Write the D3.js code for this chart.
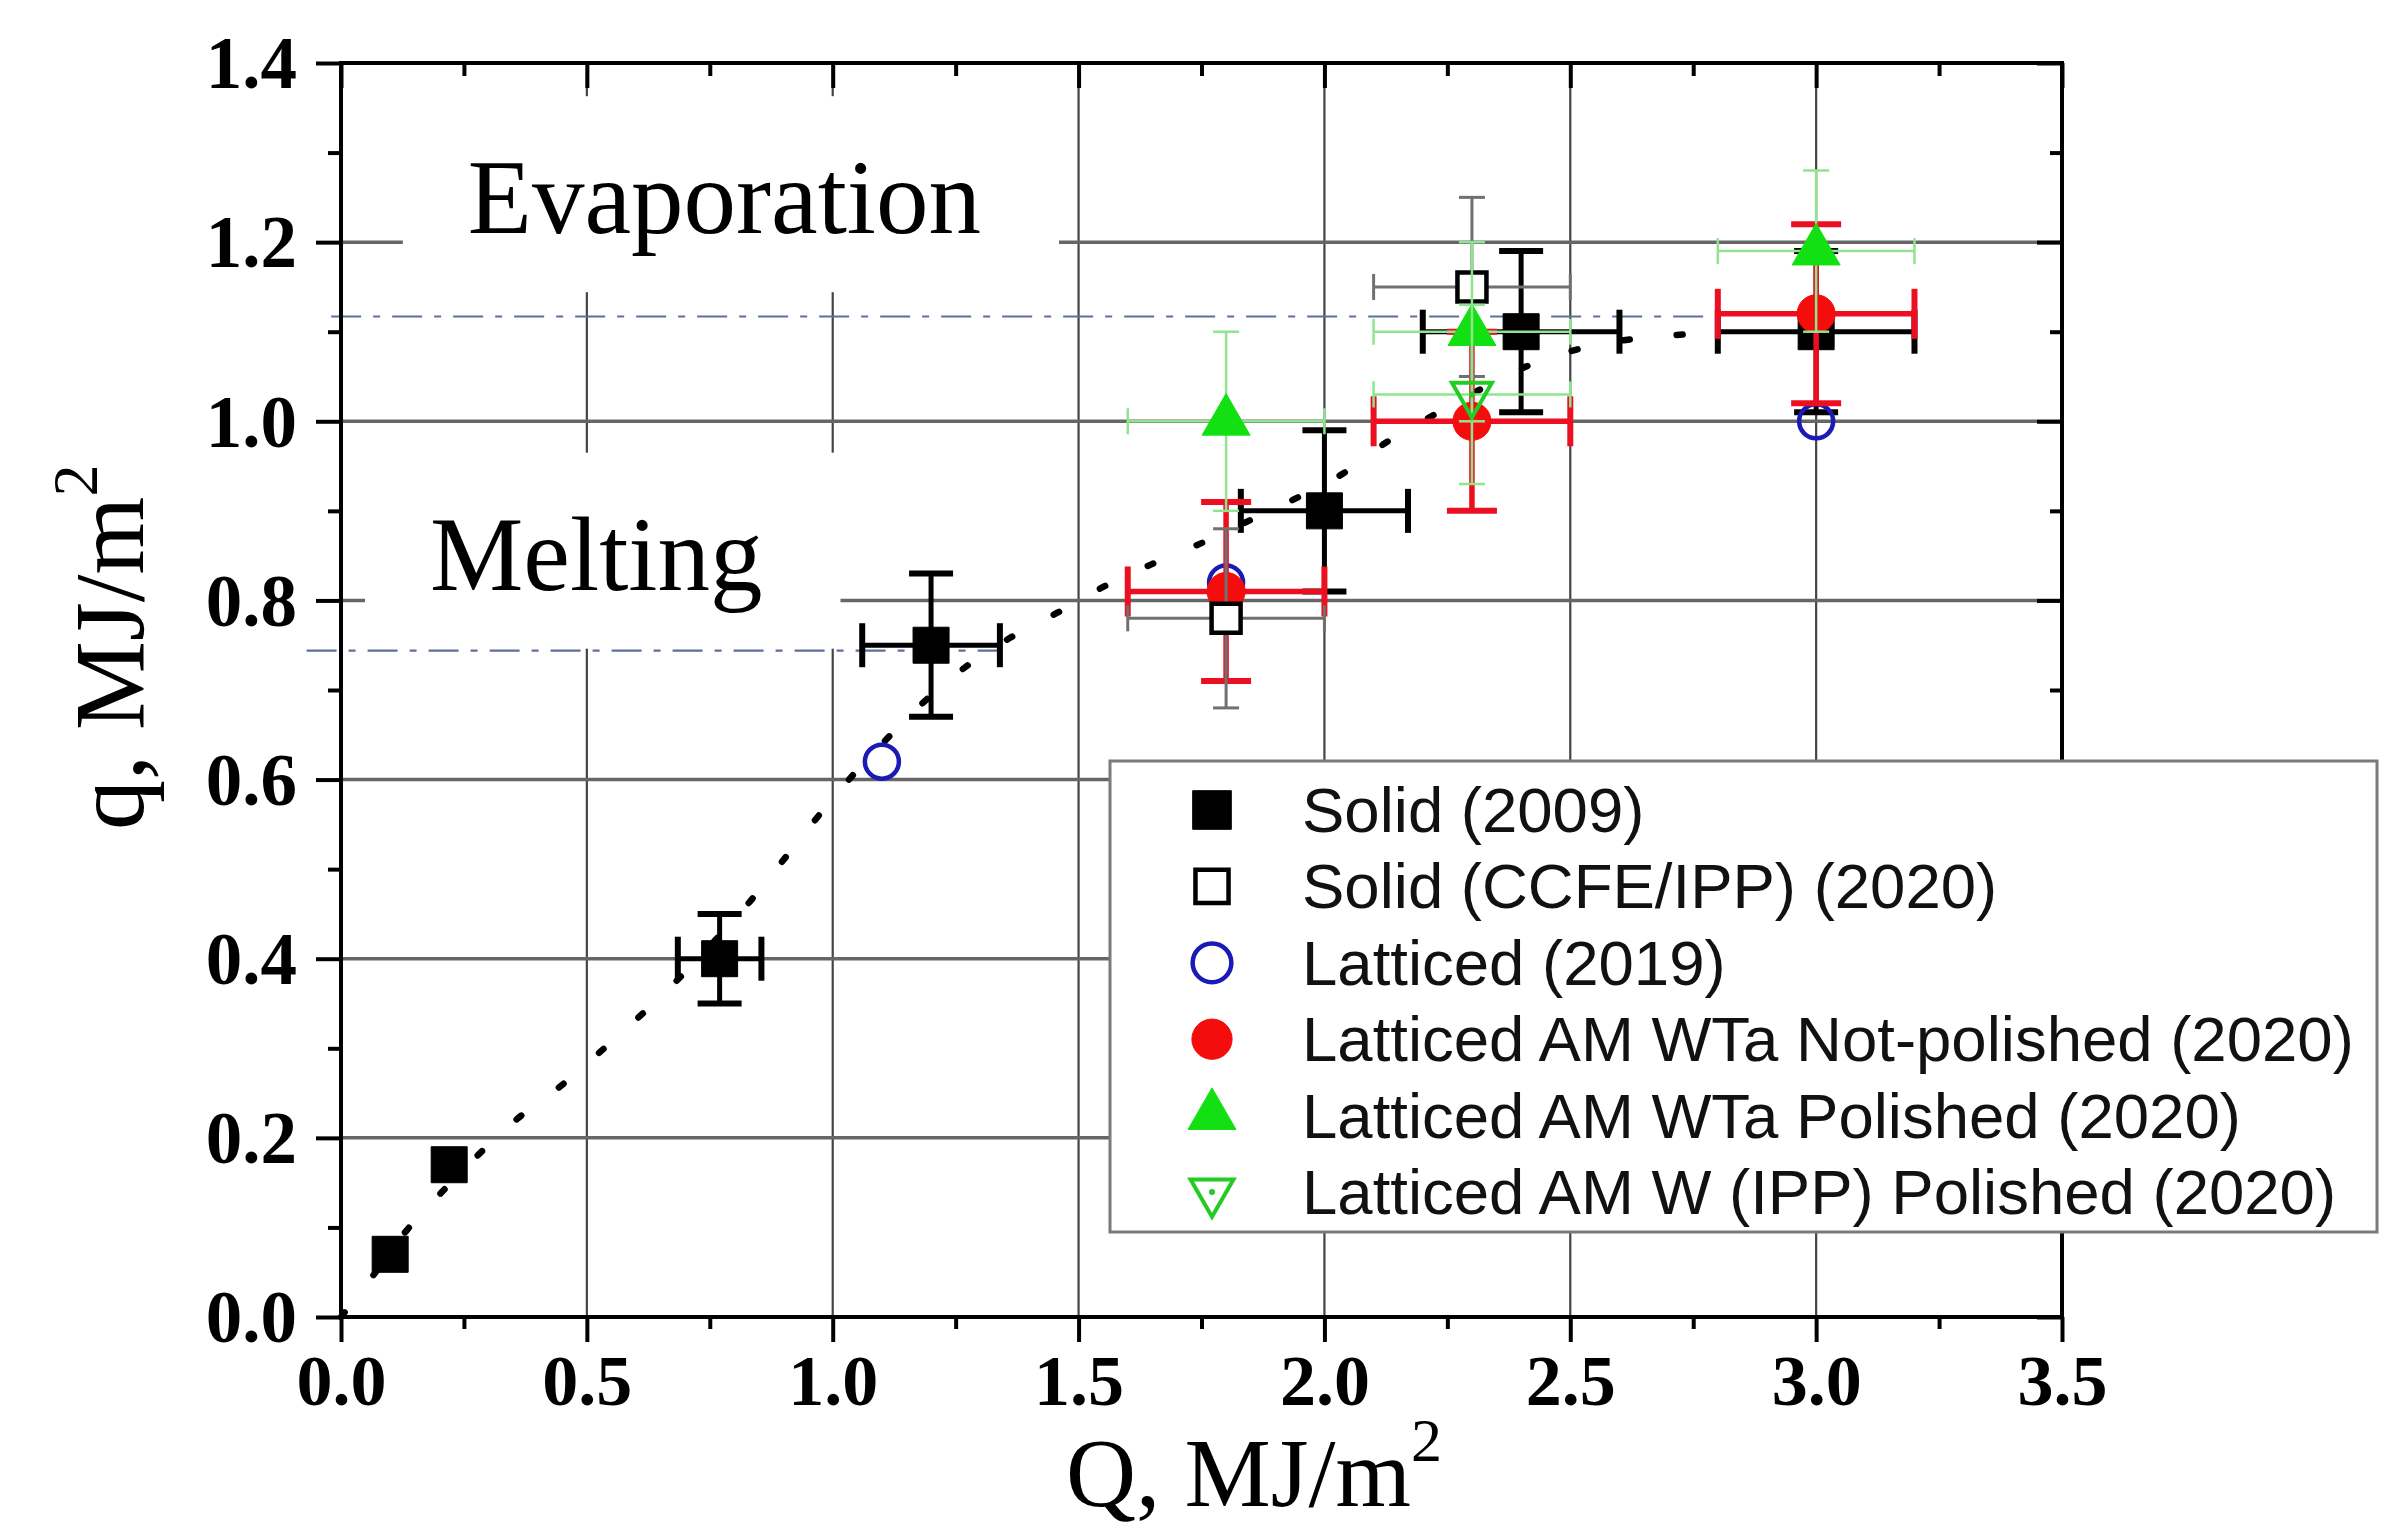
<!DOCTYPE html>
<html>
<head>
<meta charset="utf-8">
<script src="https://cdn.jsdelivr.net/npm/d3@7"></script>
<style>
  html, body { margin: 0; padding: 0; background: #fff; overflow: hidden; }
  svg { display: block; }
</style>
</head>
<body>
<div id="chart"></div>
<script>
// ---- values ----
// Solid (2009)
const solidQ    = [0.1, 0.22, 0.77, 1.2, 2.0, 2.4, 3.0];
const solidq    = [0.07, 0.17, 0.40, 0.75, 0.90, 1.10, 1.10];
const solidQerr = [0, 0, 0.085, 0.14, 0.17, 0.2, 0.2];
const solidqerr = [0, 0, 0.05, 0.08, 0.09, 0.09, 0.09];
// Solid (CCFE/IPP) (2020)
const ccfeQ    = [1.8, 2.3];
const ccfeq    = [0.78, 1.15];
const ccfeQerr = [0.2, 0.2];
const ccfeqerr = [0.1, 0.1];
// Latticed (2019)
const lat2019Q = [1.1, 1.8, 3.0];
const lat2019q = [0.62, 0.82, 1.0];
// Latticed AM WTa Not-polished (2020)
const wtaNpQ    = [1.8, 2.3, 3.0];
const wtaNpq    = [0.81, 1.0, 1.12];
const wtaNpQerr = [0.2, 0.2, 0.2];
const wtaNpqerr = [0.1, 0.1, 0.1];
// Latticed AM WTa Polished (2020)
const wtaPolQ    = [1.8, 2.3, 3.0];
const wtaPolq    = [1.0, 1.10, 1.19];
const wtaPolQerr = [0.2, 0.2, 0.2];
const wtaPolqerr = [0.1, 0.1, 0.09];
// Latticed AM W (IPP) Polished (2020)
const wIppQ    = [2.3];
const wIppq    = [1.03];
const wIppQerr = [0.2];
const wIppqerr = [0.1];

// dotted trend through the solid data
const trendQ = [0, 0.065, 0.134, 0.194, 0.279, 0.358, 0.445, 0.527, 0.606, 0.682, 0.76, 0.832, 0.898, 0.966, 1.033,
                1.184, 1.266, 1.36, 1.456, 1.55, 1.647, 1.75, 1.839, 2.036, 2.119, 2.219, 2.414, 2.519, 2.629, 2.733];
const trendq = [0, 0.046, 0.097, 0.133, 0.181, 0.221, 0.257, 0.296, 0.335, 0.375, 0.42, 0.464, 0.509, 0.556, 0.60,
                0.686, 0.724, 0.758, 0.786, 0.815, 0.84, 0.864, 0.887, 0.941, 0.974, 1.006, 1.062, 1.081, 1.092, 1.097];

// evaporation / melting thresholds (dash-dot)
const thresholdq      = [1.117, 0.744];
const thresholdQstart = [-0.02, -0.07];
const thresholdQend   = [2.8, 1.34];

const regionLabels = ["Evaporation", "Melting"];
const regionLabelQ = [0.258, 0.181];
const regionLabelq = [1.21, 0.812];

const xMajor = [0, 0.5, 1.0, 1.5, 2.0, 2.5, 3.0, 3.5];
const xMinor = [0.25, 0.75, 1.25, 1.75, 2.25, 2.75, 3.25];
const xTickLabels = ["0.0", "0.5", "1.0", "1.5", "2.0", "2.5", "3.0", "3.5"];
const yMajor = [0, 0.2, 0.4, 0.6, 0.8, 1.0, 1.2, 1.4];
const yMinor = [0.1, 0.3, 0.5, 0.7, 0.9, 1.1, 1.3];
const yTickLabels = ["0.0", "0.2", "0.4", "0.6", "0.8", "1.0", "1.2", "1.4"];
const xGrid = [0.5, 1.0, 1.5, 2.0, 2.5, 3.0];
const yGrid = [0.2, 0.4, 0.6, 0.8, 1.0, 1.2];

const legendNames = [
  "Solid (2009)",
  "Solid (CCFE/IPP) (2020)",
  "Latticed (2019)",
  "Latticed AM WTa Not-polished (2020)",
  "Latticed AM WTa Polished (2020)",
  "Latticed AM W (IPP) Polished (2020)"
];

// ---- layout ----
const W = 2408, H = 1529;
const margin = { top: 63, left: 341 };
const width = 2062 - 341, height = 1317 - 63;
const serif = "'Liberation Serif', 'Times New Roman', serif";
const sans = "'Liberation Sans', Arial, sans-serif";

const svg = d3.select("#chart").append("svg")
  .attr("width", W).attr("height", H)
  .attr("viewBox", `0 0 ${W} ${H}`);
svg.append("rect").attr("width", W).attr("height", H).attr("fill", "#fff");

const g = svg.append("g").attr("transform", `translate(${margin.left},${margin.top})`);

const x = d3.scaleLinear().domain([0, 3.5]).range([0, width]);
const y = d3.scaleLinear().domain([0, 1.4]).range([height, 0]);

// grid
g.append("g").selectAll("line").data(xGrid).join("line")
  .attr("x1", d => x(d)).attr("x2", d => x(d))
  .attr("y1", 0).attr("y2", height)
  .attr("stroke", "#444").attr("stroke-width", 2.2);
g.append("g").selectAll("line").data(yGrid).join("line")
  .attr("x1", 0).attr("x2", width)
  .attr("y1", d => y(d)).attr("y2", d => y(d))
  .attr("stroke", "#666").attr("stroke-width", 3.5);

// thresholds
g.append("g").selectAll("line").data(thresholdq).join("line")
  .attr("x1", (d, i) => x(thresholdQstart[i])).attr("x2", (d, i) => x(thresholdQend[i]))
  .attr("y1", d => y(d)).attr("y2", d => y(d))
  .attr("stroke", "#5d6f9c").attr("stroke-width", 2.2)
  .attr("stroke-dasharray", "30 12 7 12");

// region labels on white boxes
const labelLayer = g.append("g");
regionLabels.forEach((t, i) => {
  const box = labelLayer.append("rect").attr("fill", "#fff");
  const txt = labelLayer.append("text")
    .attr("x", x(regionLabelQ[i])).attr("y", y(regionLabelq[i]))
    .attr("font-family", serif).attr("font-size", 105).attr("fill", "#000")
    .text(t);
  const b = txt.node().getBBox();
  box.attr("x", b.x - 65).attr("y", b.y - 43)
     .attr("width", b.width + 143).attr("height", b.height + 79);
});

// trend
const trendLine = d3.line().x(d => x(d[0])).y(d => y(d[1])).curve(d3.curveCatmullRom);
g.append("path")
  .datum(trendQ.map((d, i) => [d, trendq[i]]))
  .attr("d", trendLine)
  .attr("fill", "none").attr("stroke", "#000").attr("stroke-width", 6.5)
  .attr("stroke-linecap", "round").attr("stroke-dasharray", "6 47");

// ---- series ----
const triSize = s => Math.sqrt(3) / 4 * s * s;
const series = [
  { Q: solidQ, q: solidq, dQ: solidQerr, dq: solidqerr,
    err: "#000", errW: 5, cap: 44, capW: 6,
    sym: d3.symbolSquare, size: 36 * 36, fill: "#000", stroke: "#000", sw: 1, rot: 0 },
  { Q: lat2019Q, q: lat2019q,
    sym: d3.symbolCircle, size: Math.PI * 17 * 17, fill: "none", stroke: "#1a1ab4", sw: 4.5, rot: 0 },
  { Q: wtaNpQ, q: wtaNpq, dQ: wtaNpQerr, dq: wtaNpqerr,
    err: "#ec0f22", errW: 5.5, cap: 50, capW: 6,
    sym: d3.symbolCircle, size: Math.PI * 19 * 19, fill: "#f50c0c", stroke: "#f50c0c", sw: 1, rot: 0 },
  { Q: ccfeQ, q: ccfeq, dQ: ccfeQerr, dq: ccfeqerr,
    err: "#707070", errW: 3, cap: 26, capW: 3,
    sym: d3.symbolSquare, size: 29 * 29, fill: "#fff", stroke: "#000", sw: 4.5, rot: 0 },
  { Q: wtaPolQ, q: wtaPolq, dQ: wtaPolQerr, dq: wtaPolqerr,
    err: "#8ee58e", errW: 2.5, cap: 26, capW: 2.5,
    sym: d3.symbolTriangle, size: triSize(48), fill: "#12e012", stroke: "#12e012", sw: 1, rot: 0 },
  { Q: wIppQ, q: wIppq, dQ: wIppQerr, dq: wIppqerr,
    err: "#8ee58e", errW: 2.5, cap: 26, capW: 2.5,
    sym: d3.symbolTriangle, size: triSize(40), fill: "none", stroke: "#22cc22", sw: 4, rot: 180, dot: true }
];

function drawSeries(s) {
  const layer = g.append("g");
  const pts = s.Q.map((Q, i) => ({ Q, q: s.q[i], dQ: s.dQ ? s.dQ[i] : 0, dq: s.dq ? s.dq[i] : 0 }));
  const hx = pts.filter(p => p.dQ > 0);
  const hy = pts.filter(p => p.dq > 0);
  const line = (sel, w) => sel.attr("stroke", s.err).attr("stroke-width", w);

  layer.selectAll(null).data(hx).join("line")
    .attr("x1", p => x(p.Q - p.dQ)).attr("x2", p => x(p.Q + p.dQ))
    .attr("y1", p => y(p.q)).attr("y2", p => y(p.q)).call(line, s.errW);
  layer.selectAll(null).data(hx.flatMap(p => [[p.Q - p.dQ, p.q], [p.Q + p.dQ, p.q]])).join("line")
    .attr("x1", c => x(c[0])).attr("x2", c => x(c[0]))
    .attr("y1", c => y(c[1]) - s.cap / 2).attr("y2", c => y(c[1]) + s.cap / 2).call(line, s.capW);
  layer.selectAll(null).data(hy).join("line")
    .attr("x1", p => x(p.Q)).attr("x2", p => x(p.Q))
    .attr("y1", p => y(p.q - p.dq)).attr("y2", p => y(p.q + p.dq)).call(line, s.errW);
  layer.selectAll(null).data(hy.flatMap(p => [[p.Q, p.q - p.dq], [p.Q, p.q + p.dq]])).join("line")
    .attr("x1", c => x(c[0]) - s.cap / 2).attr("x2", c => x(c[0]) + s.cap / 2)
    .attr("y1", c => y(c[1])).attr("y2", c => y(c[1])).call(line, s.capW);

  layer.selectAll(null).data(pts).join("path")
    .attr("d", d3.symbol().type(s.sym).size(s.size))
    .attr("transform", p => `translate(${x(p.Q)},${y(p.q)}) rotate(${s.rot})`)
    .attr("fill", s.fill).attr("stroke", s.stroke).attr("stroke-width", s.sw);
  if (s.dot) {
    layer.selectAll(null).data(pts).join("circle")
      .attr("cx", p => x(p.Q)).attr("cy", p => y(p.q)).attr("r", 3).attr("fill", s.stroke);
  }
}
series.forEach(drawSeries);

// ---- axes ----
function styleAxis(a) {
  a.select(".domain").remove();
  a.selectAll(".tick line").attr("stroke", "#000").attr("stroke-width", 4);
}
const bottom = g.append("g").attr("transform", `translate(0,${height})`)
  .call(d3.axisBottom(x).tickValues(xMajor).tickFormat((d, i) => xTickLabels[i]).tickSize(25))
  .call(styleAxis);
bottom.selectAll("text").attr("y", 88).attr("dy", 0)
  .attr("font-family", serif).attr("font-size", 72).attr("font-weight", "bold").attr("fill", "#000");
g.append("g").attr("transform", `translate(0,${height})`)
  .call(d3.axisBottom(x).tickValues(xMinor).tickFormat("").tickSize(12)).call(styleAxis);

const left = g.append("g")
  .call(d3.axisLeft(y).tickValues(yMajor).tickFormat((d, i) => yTickLabels[i]).tickSize(25).tickPadding(19))
  .call(styleAxis);
left.selectAll("text").attr("dy", "0.34em")
  .attr("font-family", serif).attr("font-size", 73).attr("font-weight", "bold").attr("fill", "#000");
g.append("g").call(d3.axisLeft(y).tickValues(yMinor).tickFormat("").tickSize(13)).call(styleAxis);

g.append("g").call(d3.axisBottom(x).tickValues(xMajor).tickFormat("").tickSize(25)).call(styleAxis);
g.append("g").call(d3.axisBottom(x).tickValues(xMinor).tickFormat("").tickSize(13)).call(styleAxis);
g.append("g").attr("transform", `translate(${width},0)`)
  .call(d3.axisLeft(y).tickValues(yMajor).tickFormat("").tickSize(25)).call(styleAxis);
g.append("g").attr("transform", `translate(${width},0)`)
  .call(d3.axisLeft(y).tickValues(yMinor).tickFormat("").tickSize(12)).call(styleAxis);

g.append("rect").attr("width", width).attr("height", height)
  .attr("fill", "none").attr("stroke", "#000").attr("stroke-width", 4);

// axis titles
const xt = svg.append("text").attr("x", 1066).attr("y", 1506)
  .attr("font-family", serif).attr("font-size", 97).attr("fill", "#000");
xt.append("tspan").text("Q, MJ/m");
xt.append("tspan").attr("font-size", 62).attr("dy", -45).text("2");

const yt = svg.append("text").attr("transform", "translate(143,830) rotate(-90)")
  .attr("font-family", serif).attr("font-size", 100).attr("fill", "#000");
yt.append("tspan").text("q, MJ/m");
yt.append("tspan").attr("font-size", 64).attr("dy", -46).text("2");

// ---- legend ----
const legend = svg.append("g");
legend.append("rect").attr("x", 1110).attr("y", 761).attr("width", 1267).attr("height", 471)
  .attr("fill", "#fff").attr("stroke", "#7a7a7a").attr("stroke-width", 3);
const legendOrder = [0, 3, 1, 2, 4, 5];
const legendSizeScale = [1.15, 1.3, 1.3, 1.12, 1.0, 1.15];
legendNames.forEach((name, i) => {
  const s = series[legendOrder[i]];
  const cy = 810 + i * 76.4;
  legend.append("path")
    .attr("d", d3.symbol().type(s.sym).size(s.size * legendSizeScale[i]))
    .attr("transform", `translate(1212,${cy}) rotate(${s.rot})`)
    .attr("fill", s.fill).attr("stroke", s.stroke).attr("stroke-width", s.sw);
  if (s.dot) legend.append("circle").attr("cx", 1212).attr("cy", cy).attr("r", 3).attr("fill", s.stroke);
  legend.append("text").attr("x", 1302).attr("y", cy + 22)
    .attr("font-family", sans).attr("font-size", 63.5).attr("fill", "#111")
    .text(name);
});
</script>
</body>
</html>
